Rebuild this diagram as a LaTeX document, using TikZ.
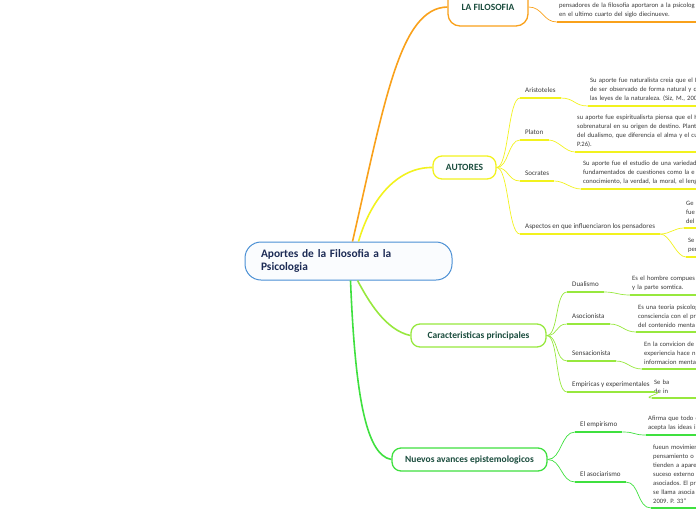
\documentclass[tikz,border=0pt]{standalone}
\usepackage{fontspec}
\setmainfont{Carlito}
\frenchspacing
\usetikzlibrary{calc, positioning}

\definecolor{orangeb}{HTML}{F9A11B}
\definecolor{yellowb}{HTML}{F2F21E}
\definecolor{limeb}{HTML}{97E83E}
\definecolor{greenb}{HTML}{3FE03F}
\definecolor{rootblue}{HTML}{4A8FD4}
\definecolor{rootnavy}{HTML}{1C2B55}
\definecolor{titlegreen}{HTML}{1B4D3E}
\definecolor{textgray}{HTML}{3A3A3A}

\begin{document}
\begin{tikzpicture}[x=1pt, y=-1pt,
    topic/.style={draw, line width=1.3pt, rounded corners=9pt, fill=white, minimum height=23pt, inner sep=0pt, font=\fontsize{9.5}{11}\selectfont\bfseries, text=titlegreen},
    lbl/.style={anchor=south west, inner xsep=5pt, inner ysep=3.5pt, text depth=1.5pt, font=\fontsize{7}{9}\selectfont, text=textgray},
    txt/.style={anchor=south west, inner xsep=2pt, inner ysep=4pt, text width=150pt, align=left, font=\fontsize{6.6}{9}\selectfont, text=textgray},
    branch/.style={line width=1.6pt},
    twig/.style={line width=0.7pt},
    uline/.style={line width=1.4pt},
    tline/.style={line width=1.8pt}]

\useasboundingbox (0,0) rectangle (696,520);
\clip (0,0) rectangle (696,520);

\node[draw=rootblue, line width=1pt, fill=rootblue!3, rounded corners=16pt, minimum width=207pt, minimum height=38pt, text width=175pt, align=left, inner xsep=16pt, font=\fontsize{11.4}{13}\selectfont\bfseries, text=rootnavy] (root) at (348.5,261) {Aportes de la Filosofia a la\\Psicologia};

% main branches
\node[topic, draw=orangeb, minimum width=80pt, minimum height=38pt, rounded corners=12pt] (filo) at (488,7) {LA FILOSOFIA};
\node[topic, draw=yellowb, minimum width=63pt] (autores) at (464.5,167.5) {AUTORES};
\node[topic, draw=limeb, minimum width=135pt] (caract) at (478.5,335.5) {Caracteristicas principales};
\node[topic, draw=greenb, minimum width=155pt] (nuevos) at (469.5,459.5) {Nuevos avances epistemologicos};

\draw[branch, orangeb] ($(root.north) + (4,0)$) .. controls (385,100) and (400,8) .. (filo.west);
\draw[branch, yellowb] ($(root.north) + (10,0)$) .. controls (372,195) and (400,167) .. (autores.west);
\draw[branch, limeb] ($(root.south) + (9,0)$) .. controls (368,300) and (385,330) .. (caract.west);
\draw[branch, greenb] ($(root.south) + (2,0)$) .. controls (355,390) and (365,455) .. (nuevos.west);

% LA FILOSOFIA
\begin{scope}[orangeb]
    \node[txt] (filotxt) at (557,22) {pensadores de la filosofia aportaron a la psicolog\\en el ultimo cuarto del siglo diecinueve.};
    \draw[tline] (filotxt.south west) -- (filotxt.south east);
    \draw[twig] (filo.east) .. controls +(14,0) and +(-14,0) .. (filotxt.south west);
\end{scope}

% AUTORES
\begin{scope}[yellowb]
    \node[lbl] (arist) at (520,98) {Aristoteles};
    \node[lbl] (platon) at (520,140) {Platon};
    \node[lbl] (socr) at (520,181) {Socrates};
    \node[lbl] (aspect) at (520,234) {Aspectos en que influenciaron los pensadores};

    \node[txt] (aristtxt) at (588,106) {Su aporte fue naturalista creia que el H\\de ser observado de forma natural y q\\las leyes de la naturaleza. (Siz, M., 200};
    \node[txt] (platontxt) at (575,152) {su aporte fue espiritualisrta piensa que el H\\sobrenatural en su origen de destino. Plant\\del dualismo, que diferencia el alma y el cu\\P.26).};
    \node[txt] (socrtxt) at (581,189) {Su aporte fue el estudio de una variedad\\fundamentados de cuestiones como la e\\conocimiento, la verdad, la moral, el leng};
    \node[txt] (aspA) at (684,228) {Ge\\fue\\del};
    \node[txt] (aspB) at (686,257) {Se\\per};

    \foreach \n in {arist, platon, socr, aspect, aristtxt, platontxt, socrtxt, aspA, aspB}
        \draw[uline] (\n.south west) -- (\n.south east);
    \foreach \n in {arist, platon, socr, aspect}
        \draw[twig] (autores.east) .. controls +(12,0) and +(-12,0) .. (\n.south west);
    \draw[twig] (arist.south east) .. controls +(14,0) and +(-14,0) .. (aristtxt.south west);
    \draw[twig] (platon.south east) .. controls +(10,0) and +(-10,0) .. (platontxt.south west);
    \draw[twig] (socr.south east) .. controls +(10,0) and +(-10,0) .. (socrtxt.south west);
    \draw[twig] (aspect.south east) .. controls +(10,0) and +(-10,0) .. (aspA.south west);
    \draw[twig] (aspect.south east) .. controls +(10,0) and +(-10,0) .. (aspB.south west);
\end{scope}

% Caracteristicas principales
\begin{scope}[limeb]
    \node[lbl] (dual) at (567,292) {Dualismo};
    \node[lbl] (asoc) at (567,324) {Asocionista};
    \node[lbl] (sens) at (567,361) {Sensacionista};
    \node[lbl] (empir) at (567,392) {Empiricas y experimentales};

    \node[txt] (dualtxt) at (630,295) {Es el hombre compues\\y la parte somtica.};
    \node[txt] (asoctxt) at (636,332) {Es una teoria psicolog\\consciencia con el pr\\del contenido menta};
    \node[txt] (senstxt) at (642,369) {En la convicion de\\experiencia hace n\\informacion menta};
    \node[txt] (empirtxt) at (652,398) {Se ba\\de in};

    \foreach \n/\m in {dual/dualtxt, asoc/asoctxt, sens/senstxt, empir/empirtxt} {
        \draw[uline] (\n.south west) -- (\n.south east);
        \draw[tline] (\m.south west) -- (\m.south east);
        \draw[twig] (caract.east) .. controls +(12,0) and +(-12,0) .. (\n.south west);
        \draw[twig] (\n.south east) .. controls +(12,0) and +(-12,0) .. (\m.south west);
    }
\end{scope}

% Nuevos avances epistemologicos
\begin{scope}[greenb]
    \node[lbl] (empi) at (575,432) {El empirismo};
    \node[lbl] (asocia) at (575,482) {El asociarismo};

    \node[txt] (empitxt) at (646,435) {Afirma que todo c\\acepta las ideas i};
    \node[txt] (asociatxt) at (651,508) {fueun movimien\\pensamiento o\\tienden a apare\\suceso externo\\asociados. El pr\\se llama asocia\\2009. P. 33”};

    \foreach \n/\m in {empi/empitxt, asocia/asociatxt} {
        \draw[uline] (\n.south west) -- (\n.south east);
        \draw[tline] (\m.south west) -- (\m.south east);
        \draw[twig] (nuevos.east) .. controls +(14,0) and +(-14,0) .. (\n.south west);
        \draw[twig] (\n.south east) .. controls +(14,0) and +(-14,0) .. (\m.south west);
    }
\end{scope}

\end{tikzpicture}
\end{document}
